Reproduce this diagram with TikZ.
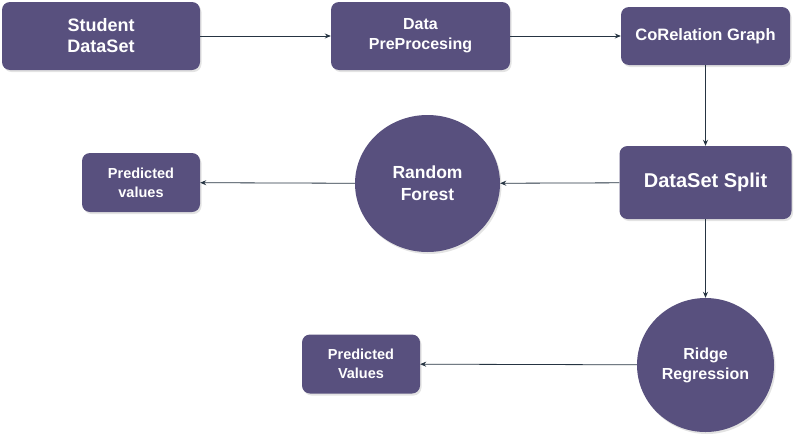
\documentclass[tikz,border=0pt]{standalone}
\usepackage{fontspec}
\setmainfont{Liberation Sans}
\usepackage{xcolor}
\usetikzlibrary{arrows.meta,shapes.geometric,shadows}

\definecolor{boxfill}{RGB}{88,80,126}
\definecolor{linkcol}{RGB}{38,52,66}

\newcommand{\sz}[2]{\bfseries\fontsize{#1}{#2}\selectfont}

\begin{document}
\begin{tikzpicture}[x=1pt, y=-1pt,
    box/.style={rectangle, rounded corners=8pt, fill=boxfill, text=white, inner sep=0pt, align=center,
        drop shadow={opacity=0.22, shadow xshift=1.5pt, shadow yshift=-2pt}},
    blob/.style={ellipse, fill=boxfill, text=white, inner sep=0pt, align=center,
        drop shadow={opacity=0.22, shadow xshift=1.5pt, shadow yshift=-2pt}},
    link/.style={draw=linkcol, line width=0.8pt, -{Stealth[length=6pt, width=5pt]}}]

    \useasboundingbox (0,0) rectangle (805,442);

    % Top row
    \node[box, minimum width=198pt, minimum height=68pt, font=\sz{18}{21}] (student) at (101,36)
        {Student\\DataSet};
    \node[box, minimum width=179pt, minimum height=68pt, font=\sz{16}{20}] (prep) at (420.5,36)
        {Data\\PreProcesing};
    \node[box, minimum width=169pt, minimum height=58pt, font=\sz{16.5}{20}] (corr) at (705.5,36)
        {CoRelation Graph};

    % Middle row
    \node[box, minimum width=172pt, minimum height=73pt, font=\sz{20}{24}] (split) at (705.5,182.5)
        {DataSet Split};
    \node[blob, minimum width=145pt, minimum height=137pt, font=\sz{17.5}{22}] (forest) at (427.5,183.5)
        {Random\\Forest};
    \node[box, minimum width=118pt, minimum height=59pt, font=\sz{14.5}{19}] (predrf) at (141,182.5)
        {Predicted\\values};

    % Bottom row
    \node[blob, minimum width=137pt, minimum height=134pt, font=\sz{16}{20}] (ridge) at (705.5,365)
        {Ridge\\Regression};
    \node[box, minimum width=118pt, minimum height=59pt, font=\sz{14.5}{19}] (predrr) at (361,364)
        {Predicted\\Values};

    \draw[link] (student) -- (prep);
    \draw[link] (prep) -- (corr);
    \draw[link] (corr) -- (split);
    \draw[link] (split) -- (forest);
    \draw[link] (forest) -- (predrf);
    \draw[link] (split) -- (ridge);
    \draw[link] (ridge) -- (predrr);
\end{tikzpicture}
\end{document}
